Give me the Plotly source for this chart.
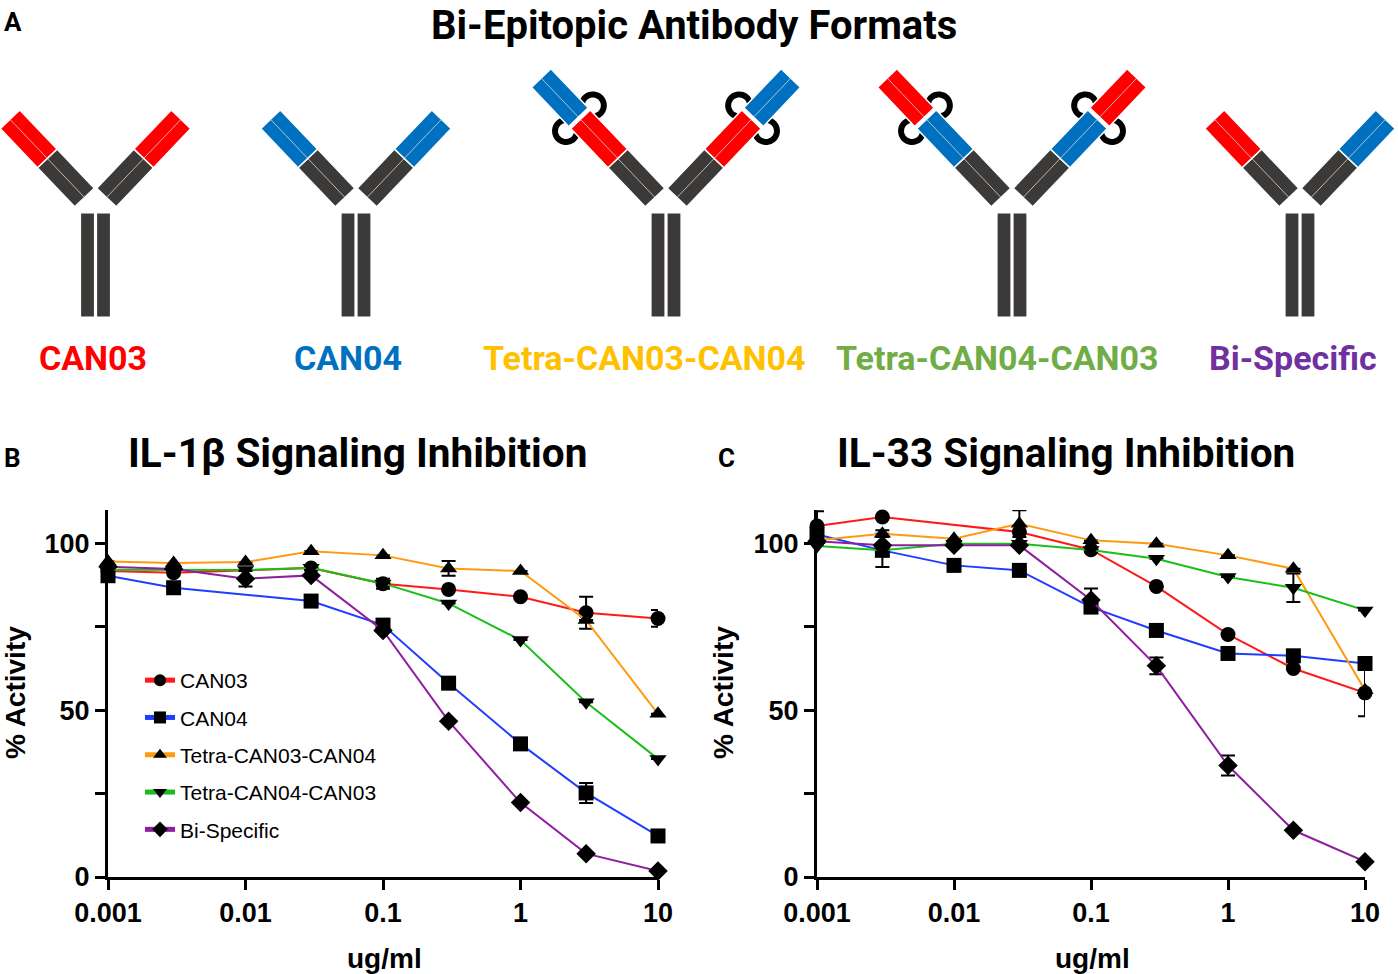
import math
import plotly.graph_objects as go

W, H = 1398, 974

# dose axis shared by both panels (ug/ml)
dose = [0.001, 0.003, 0.01, 0.03, 0.1, 0.3, 1, 3, 10]
dose_ticks = [0.001, 0.01, 0.1, 1, 10]
dose_labels = ["0.001", "0.01", "0.1", "1", "10"]
activity_ticks = [0, 25, 50, 75, 100]
activity_labels = ["0", "", "50", "", "100"]

names = ["CAN03", "CAN04", "Tetra-CAN03-CAN04", "Tetra-CAN04-CAN03", "Bi-Specific"]
line_colors = ["#ff1a1a", "#1f3dff", "#ff9a10", "#19c019", "#8e1f9e"]
symbols = ["circle", "square", "triangle-up", "triangle-down", "diamond"]
label_colors = ["#ff0000", "#0070c0", "#ffc000", "#70ad47", "#7030a0"]

# panel B: IL-1beta
il1b_can03 = [91.7, 91.2, None, 92.6, 87.9, 86.2, 84.0, 79.2, 77.5]
il1b_can04 = [90.3, 86.7, None, 82.7, 75.5, 58.1, 39.9, 25.2, 12.3]
il1b_tetra_0304 = [94.6, 94.1, 94.4, 97.6, 96.4, 92.5, 91.7, 77.0, 48.9]
il1b_tetra_0403 = [92.1, 92.0, 92.0, 92.7, 88.0, 82.0, 71.0, 52.4, 35.4]
il1b_bispecific = [93.0, 92.3, 89.4, 90.4, 73.9, 46.7, 22.3, 7.0, 1.8]

il1b_can03_err = [0, 0, 0, 0, 1.5, 0, 0, 4.8, 2.5]
il1b_can04_err = [0, 0, 0, 0, 0, 0, 0, 3.0, 0]
il1b_tetra_0304_err = [0, 0, 0, 0, 0, 2.2, 0, 0, 0]
il1b_tetra_0403_err = [0, 0, 0, 0, 0, 0, 0, 0, 0]
il1b_bispecific_err = [0, 0, 2.3, 0, 0, 0, 0, 0, 0]

# panel C: IL-33
il33_can03 = [105.2, 107.9, None, 103.4, 98.1, 87.1, 72.7, 62.5, 55.2]
il33_can04 = [102.7, 97.9, 93.4, 91.9, 80.9, 73.9, 67.0, 66.3, 64.0]
il33_tetra_0304 = [100.9, 102.9, 101.4, 105.9, 100.9, 99.9, 96.4, 92.4, 56.0]
il33_tetra_0403 = [99.2, 97.9, 99.9, 99.9, 98.0, 95.4, 89.9, 86.7, 79.9]
il33_bispecific = [100.6, 99.4, 99.4, 99.4, 83.0, 63.3, 33.4, 14.0, 4.6]

il33_can03_err = [4.4, 0, 0, 0, 0, 0, 0, 0, 7.0]
il33_can04_err = [0, 5.0, 0, 0, 0, 0, 0, 0, 0]
il33_tetra_0304_err = [0, 1.0, 0, 4.0, 0, 0, 0, 0, 0]
il33_tetra_0403_err = [0, 0, 0, 0, 0, 0, 0, 4.3, 0]
il33_bispecific_err = [0, 0, 0, 0, 3.5, 2.5, 3.0, 0, 0]

panel_b = [il1b_can03, il1b_can04, il1b_tetra_0304, il1b_tetra_0403, il1b_bispecific]
panel_b_err = [il1b_can03_err, il1b_can04_err, il1b_tetra_0304_err, il1b_tetra_0403_err, il1b_bispecific_err]
panel_c = [il33_can03, il33_can04, il33_tetra_0304, il33_tetra_0403, il33_bispecific]
panel_c_err = [il33_can03_err, il33_can04_err, il33_tetra_0304_err, il33_tetra_0403_err, il33_bispecific_err]

BOLD = "Liberation Sans"
HEAD = "Roboto"
DARK = "#3c3939"
RED = "#ff0000"
BLUE = "#0070c0"

fig = go.Figure()

for i in range(5):
    for vals, errs, ax, leg in [(panel_b[i], panel_b_err[i], "", True),
                                (panel_c[i], panel_c_err[i], "2", False)]:
        fig.add_trace(go.Scatter(
            x=dose, y=vals, name=names[i], legendgroup=names[i], showlegend=leg,
            xaxis="x" + ax, yaxis="y" + ax, mode="lines+markers", connectgaps=True,
            line=dict(color=line_colors[i], width=2),
            marker=dict(symbol=symbols[i], color="black", size=15),
            error_y=dict(type="data", array=errs, color="black", thickness=2, width=7),
            cliponaxis=False,
        ))


def px(x, y):
    return x / W, 1 - y / H


def poly(pts):
    s = ""
    for k, (x, y) in enumerate(pts):
        a, b = px(x, y)
        s += ("M" if k == 0 else " L") + f"{a:.5f},{b:.5f}"
    return s


shapes = []


def add_poly(pts, fill, close=True, lw=1.2, lc="white"):
    shapes.append(dict(type="path", xref="paper", yref="paper",
                       path=poly(pts) + (" Z" if close else ""),
                       fillcolor=fill, line=dict(color=lc, width=lw), layer="above"))


def arm(cx, side, colors, linker=False):
    ux, uy = side * 0.69, -0.724
    pxv, pyv = 0.724, side * 0.69
    hw = 13.5
    ix, iy = cx + side * 11, 197.5
    segs = [(0, 54), (54, 108)] if not linker else [(0, 54), (54, 108), (111, 165)]
    if linker:
        # flexible linkers drawn as thick open arcs on both sides of the junction
        jx, jy = ix + 109.5 * ux, iy + 109.5 * uy
        for s in (1, -1):
            ccx, ccy = jx + s * (hw + 5) * pxv, jy + s * (hw + 5) * pyv
            pts = []
            for k in range(31):
                t = math.radians(-30 + 240 * k / 30)
                pts.append((ccx + 11 * (math.cos(t) * ux + math.sin(t) * s * pxv),
                            ccy + 11 * (math.cos(t) * uy + math.sin(t) * s * pyv)))
            shapes.append(dict(type="path", xref="paper", yref="paper", path=poly(pts),
                               line=dict(color="black", width=6), layer="above"))
    for (a, b), col in zip(segs, colors):
        pts = [(ix + a * ux + hw * pxv, iy + a * uy + hw * pyv),
               (ix + b * ux + hw * pxv, iy + b * uy + hw * pyv),
               (ix + b * ux - hw * pxv, iy + b * uy - hw * pyv),
               (ix + a * ux - hw * pxv, iy + a * uy - hw * pyv)]
        add_poly(pts, col, lw=1.5)
        add_poly([(ix + a * ux, iy + a * uy), (ix + b * ux, iy + b * uy)],
                 "rgba(0,0,0,0)", close=False, lw=0.8, lc="#d8d8d8")


def antibody(cx, left, right, linker=False):
    for x0, x1 in [(cx - 15, cx - 1), (cx + 1, cx + 15)]:
        add_poly([(x0, 213), (x1, 213), (x1, 317), (x0, 317)], DARK)
    arm(cx, -1, left, linker)
    arm(cx, 1, right, linker)


antibody(95.5, [DARK, RED], [DARK, RED])
antibody(356, [DARK, BLUE], [DARK, BLUE])
antibody(666, [DARK, RED, BLUE], [DARK, RED, BLUE], linker=True)
antibody(1012, [DARK, BLUE, RED], [DARK, BLUE, RED], linker=True)
antibody(1300, [DARK, RED], [DARK, BLUE])

annotations = []


def text(x, y, s, size, color="black", family=HEAD, bold=True, angle=0, anchor="center", vanchor="middle"):
    a, b = px(x, y)
    annotations.append(dict(x=a, y=b, xref="paper", yref="paper", text=s, showarrow=False,
                            xanchor=anchor, yanchor=vanchor, textangle=angle,
                            font=dict(size=size, color=color, family=family,
                                      weight="bold" if bold else "normal")))


text(2, 22, "A", 26, anchor="left")
text(694, 0, "Bi-Epitopic Antibody Formats", 40, vanchor="top")
for lx, lab, col in zip([93, 348, 644, 997, 1293], names, label_colors):
    text(lx, 358, lab, 34, color=col)
text(2, 458, "B", 26, anchor="left")
text(716, 458, "C", 26, anchor="left")
text(358, 453, "IL-1β Signaling Inhibition", 40.5)
text(1066, 453, "IL-33 Signaling Inhibition", 40.5)
text(15, 693, "% Activity", 28, family=BOLD, angle=-90)
text(723, 693, "% Activity", 28, family=BOLD, angle=-90)
text(385, 958, "ug/ml", 28, family=BOLD)
text(1092, 958, "ug/ml", 28, family=BOLD)

y_dom = [1 - 877 / H, 1 - 510 / H]
axis_common = dict(showline=True, linecolor="black", linewidth=3, ticks="outside",
                   ticklen=10, tickwidth=3, tickcolor="black", showgrid=False,
                   zeroline=False, automargin=False,
                   tickfont=dict(family=BOLD, size=27, color="black", weight="bold"))
xa = dict(type="log", range=[-3, 1], tickvals=dose_ticks, ticktext=dose_labels, **axis_common)
ya = dict(range=[0, 110], tickvals=activity_ticks, ticktext=activity_labels, domain=y_dom, **axis_common)

fig.update_layout(
    width=W, height=H, margin=dict(l=0, r=0, t=0, b=0, autoexpand=False),
    plot_bgcolor="white", paper_bgcolor="white",
    xaxis=dict(domain=[108 / W, 658 / W], anchor="y", **xa),
    yaxis=dict(anchor="x", **ya),
    xaxis2=dict(domain=[817 / W, 1365 / W], anchor="y2", **xa),
    yaxis2=dict(anchor="x2", **ya),
    shapes=shapes, annotations=annotations,
    legend=dict(x=140 / W, y=1 - 660 / H, xanchor="left", yanchor="top",
                bgcolor="rgba(0,0,0,0)", itemsizing="constant", tracegroupgap=7,
                font=dict(family=BOLD, size=21, color="black")),
    showlegend=True,
)

fig.write_html("out.html", config={"displayModeBar": False},
               post_script="document.body.style.margin='0';")
